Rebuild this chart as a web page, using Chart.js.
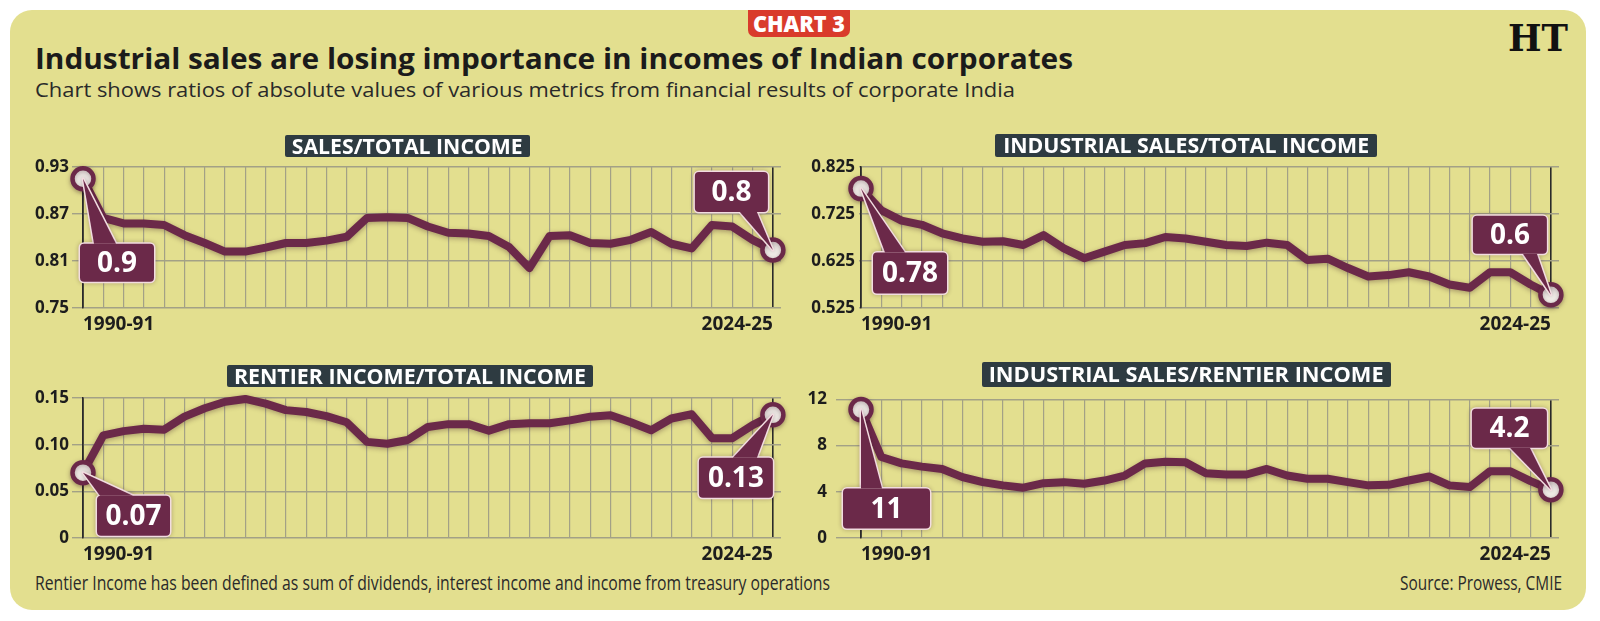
<!DOCTYPE html>
<html><head><meta charset="utf-8">
<script src="https://cdn.jsdelivr.net/npm/chart.js@4.4.1/dist/chart.umd.min.js"></script>
<style>
html,body{margin:0;padding:0;background:#fff;width:1600px;height:621px;overflow:hidden;font-family:'Open Sans',sans-serif;}
#card{position:absolute;left:10px;top:10px;width:1576px;height:600px;background:#E3DF8F;border-radius:22px;}
.t{position:absolute;white-space:nowrap;line-height:1;}
.t span{display:inline-block;transform-origin:left center;}
canvas{position:absolute;}
.pt{position:absolute;background:#2E3B41;color:#fff;font-weight:700;font-size:21px;line-height:1;display:flex;align-items:center;justify-content:center;border-radius:2px;white-space:nowrap;}
.pt span{display:inline-block;}
#badge{position:absolute;left:748px;top:10px;width:102px;height:27px;background:#D93B2B;border-radius:0 0 7px 7px;color:#fff;font-weight:800;font-size:23px;line-height:1;display:flex;align-items:center;justify-content:center;}
#badge span{display:inline-block;}
</style></head>
<body>
<div id="card"></div>
<div id="badge"><span>CHART 3</span></div>
<div class="t" id="ht" style="left:1508px;top:19px;font-family:'DejaVu Serif',serif;font-weight:700;font-size:38px;color:#111;"><span>HT</span></div>
<div class="t" id="title" style="left:35px;top:44px;font-size:28px;font-weight:700;color:#1b1b1b;"><span>Industrial sales are losing importance in incomes of Indian corporates</span></div>
<div class="t" id="sub" style="left:35px;top:79.5px;font-size:20px;color:#2a2a2a;"><span>Chart shows ratios of absolute values of various metrics from financial results of corporate India</span></div>
<div class="t" id="foot" style="left:35px;top:572.5px;font-size:20px;color:#2a2a2a;"><span>Rentier Income has been defined as sum of dividends, interest income and income from treasury operations</span></div>
<div class="t" id="src" style="left:1400px;top:572.5px;font-size:20px;color:#2a2a2a;"><span>Source: Prowess, CMIE</span></div>

<canvas id="c1" width="800" height="190" style="left:0;top:150px"></canvas>
<canvas id="c2" width="800" height="190" style="left:800px;top:150px"></canvas>
<canvas id="c3" width="800" height="190" style="left:0;top:380px"></canvas>
<canvas id="c4" width="800" height="190" style="left:800px;top:380px"></canvas>

<div class="pt" id="pt1" style="left:285px;top:135px;width:245px;height:22px;"><span>SALES/TOTAL INCOME</span></div>
<div class="pt" id="pt2" style="left:995px;top:134px;width:382px;height:23px;"><span>INDUSTRIAL SALES/TOTAL INCOME</span></div>
<div class="pt" id="pt3" style="left:227px;top:365px;width:366px;height:22px;"><span>RENTIER INCOME/TOTAL INCOME</span></div>
<div class="pt" id="pt4" style="left:982px;top:362px;width:409px;height:25px;"><span>INDUSTRIAL SALES/RENTIER INCOME</span></div>

<script>
// ---------- DATA ----------
const years = ['1990-91','1991-92','1992-93','1993-94','1994-95','1995-96','1996-97','1997-98','1998-99','1999-00',
  '2000-01','2001-02','2002-03','2003-04','2004-05','2005-06','2006-07','2007-08','2008-09','2009-10',
  '2010-11','2011-12','2012-13','2013-14','2014-15','2015-16','2016-17','2017-18','2018-19','2019-20',
  '2020-21','2021-22','2022-23','2023-24','2024-25'];

const salesTotal = [0.915,0.865,0.858,0.858,0.856,0.843,0.833,0.822,0.822,0.827,0.833,0.833,0.836,0.841,0.865,0.866,0.865,0.854,0.846,0.845,0.842,0.828,0.801,0.842,0.843,0.833,0.832,0.837,0.847,0.832,0.826,0.856,0.854,0.837,0.824];
const indSalesTotal = [0.779,0.733,0.711,0.702,0.684,0.673,0.666,0.667,0.659,0.680,0.652,0.631,0.645,0.659,0.663,0.676,0.673,0.666,0.659,0.657,0.664,0.659,0.627,0.630,0.610,0.592,0.595,0.601,0.592,0.575,0.568,0.601,0.601,0.575,0.553];
const rentierTotal = [0.070,0.110,0.1145,0.117,0.116,0.130,0.139,0.146,0.149,0.144,0.137,0.135,0.1305,0.124,0.103,0.101,0.105,0.119,0.122,0.122,0.115,0.122,0.123,0.123,0.126,0.130,0.1315,0.124,0.1155,0.128,0.1326,0.107,0.107,0.121,0.132];
const indSalesRentier = [11.1,7.0,6.45,6.17,5.97,5.26,4.83,4.55,4.35,4.74,4.83,4.69,4.97,5.4,6.45,6.6,6.54,5.6,5.49,5.49,5.97,5.4,5.12,5.12,4.83,4.55,4.6,4.97,5.32,4.55,4.4,5.77,5.77,4.92,4.18];

const salesCallouts = ['0.9','0.8'];
const indSalesTotalCallouts = ['0.78','0.6'];
const rentierTotalCallouts = ['0.07','0.13'];
const indSalesRentierCallouts = ['11','4.2'];

const salesTickVals = [0.75,0.81,0.87,0.93];
const salesTickLabels = ['0.75','0.81','0.87','0.93'];
const indSalesTickVals = [0.525,0.625,0.725,0.825];
const indSalesTickLabels = ['0.525','0.625','0.725','0.825'];
const rentierTickVals = [0,0.05,0.10,0.15];
const rentierTickLabels = ['0','0.05','0.10','0.15'];
const ratioTickVals = [0,4,8,12];
const ratioTickLabels = ['0','4','8','12'];

// ---------- STYLE ----------
const MAROON = '#6B2949';
const GRID = '#A3A186';
const DARK = '#2A2A2A';
Chart.defaults.font.family = "'Open Sans', sans-serif";

function fitText(id, w, origin){
  const el = document.getElementById(id); const s = el.querySelector('span');
  const cw = s.getBoundingClientRect().width;
  s.style.transform = 'scaleX(' + (w / cw) + ')';
  s.style.transformOrigin = origin || 'left center';
}
fitText('title', 1038);
fitText('sub', 980);
fitText('foot', 795);
fitText('src', 162);
fitText('ht', 60);
fitText('badge', 92, 'center center');
fitText('pt1', 231, 'center center');
fitText('pt2', 366, 'center center');
fitText('pt3', 352, 'center center');
fitText('pt4', 395, 'center center');

const shadowPlugin = {
  id: 'lineShadow',
  beforeDatasetsDraw(chart){ const c = chart.ctx; c.save(); c.shadowColor = 'rgba(50,15,30,0.35)'; c.shadowBlur = 5; c.shadowOffsetY = 1.5; },
  afterDatasetsDraw(chart){ chart.ctx.restore(); }
};

const calloutPlugin = {
  id: 'callouts',
  afterDatasetsDraw(chart, args, opts){
    const ctx = chart.ctx; const meta = chart.getDatasetMeta(0);
    (opts.items || []).forEach(c => {
      const pt = meta.data[c.index]; const x = pt.x, y = pt.y;
      const bx = x + c.dx, by = y + c.dy;
      const baseY = c.side === 'top' ? by : by + c.h;
      const shape = () => {
        ctx.beginPath();
        ctx.moveTo(x, y); ctx.lineTo(bx + c.b1, baseY); ctx.lineTo(bx + c.b2, baseY); ctx.closePath();
      };
      const box = () => { ctx.beginPath(); ctx.roundRect(bx, by, c.w, c.h, 4); };
      ctx.save();
      ctx.lineJoin = 'round';
      ctx.shadowColor = 'rgba(40,10,25,0.3)'; ctx.shadowBlur = 4;
      ctx.strokeStyle = '#F2DCE0'; ctx.lineWidth = 3;
      shape(); ctx.stroke(); box(); ctx.stroke();
      ctx.shadowColor = 'transparent';
      ctx.fillStyle = MAROON;
      shape(); ctx.fill(); box(); ctx.fill();
      ctx.fillStyle = '#FFFFFF';
      ctx.font = "700 28px 'Open Sans', sans-serif";
      ctx.textAlign = 'center'; ctx.textBaseline = 'middle';
      ctx.fillText(c.text, bx + c.w / 2, by + c.h / 2 + 1);
      ctx.restore();
    });
  }
};

function makeChart(p){
  const last = years.length - 1;
  new Chart(document.getElementById(p.id), {
    type: 'line',
    data: {
      datasets: [{
        data: p.values.map((v, i) => ({x: i, y: v})),
        borderColor: MAROON, borderWidth: 8, tension: 0,
        borderJoinStyle: 'round', borderCapStyle: 'round',
        pointRadius: ctx => (ctx.dataIndex === 0 || ctx.dataIndex === last) ? 10.5 : 0,
        pointHoverRadius: 0,
        pointBackgroundColor: '#F3EFEA', pointBorderColor: MAROON, pointBorderWidth: 4.5,
        clip: false
      }]
    },
    options: {
      responsive: false, animation: false, events: [],
      layout: { padding: { top: p.padT, right: p.padR, left: 0, bottom: 0 } },
      plugins: {
        legend: { display: false }, tooltip: { enabled: false },
        callouts: { items: [
          Object.assign({index: 0, text: p.callTexts[0]}, p.callouts[0]),
          Object.assign({index: last, text: p.callTexts[1]}, p.callouts[1])
        ]}
      },
      scales: {
        x: {
          type: 'linear', min: 0, max: last + 0.4,
          afterBuildTicks: s => { s.ticks = years.map((_, i) => ({value: i})); },
          afterFit: s => { s.height = p.xH; },
          grid: { color: c => (c.tick && (c.tick.value === 0 || c.tick.value === last)) ? DARK : GRID, lineWidth: c => (c.tick && (c.tick.value === 0 || c.tick.value === last)) ? 1.6 : 1.2, drawTicks: false },
          border: { display: false },
          ticks: {
            autoSkip: false, maxRotation: 0, minRotation: 0, align: 'inner', padding: 5,
            color: '#1d1d1d', font: { size: 19, weight: '700' },
            callback: (v, i) => (i === 0 ? years[0] : (i === last ? years[last] : ''))
          }
        },
        y: {
          min: p.tickVals[0], max: p.tickVals[p.tickVals.length - 1],
          afterBuildTicks: s => { s.ticks = p.tickVals.map(v => ({value: v})); },
          afterFit: s => { s.width = p.yW; },
          grid: { color: GRID, lineWidth: 1.4, tickLength: p.tickLen, drawTicks: p.tickLen > 0 },
          border: { display: true, color: DARK, width: 1.6 },
          ticks: {
            padding: p.pad, color: '#1d1d1d', font: { size: 17, weight: '700' },
            callback: (v, i) => p.tickLabels[i]
          }
        }
      }
    },
    plugins: [shadowPlugin, calloutPlugin]
  });
}

makeChart({ id: 'c1', values: salesTotal, callTexts: salesCallouts, tickVals: salesTickVals, tickLabels: salesTickLabels,
  tickLen: 11, pad: 3, yW: 83, padR: 19, padT: 17, xH: 32,
  callouts: [ {dx: -3, dy: 65, w: 74, h: 38, b1: 14, b2: 36, side: 'top'}, {dx: -78, dy: -78, w: 73, h: 40, b1: 45, b2: 62, side: 'bottom'} ] });
makeChart({ id: 'c2', values: indSalesTotal, callTexts: indSalesTotalCallouts, tickVals: indSalesTickVals, tickLabels: indSalesTickLabels,
  tickLen: 2, pad: 4, yW: 61, padR: 41, padT: 17, xH: 32,
  callouts: [ {dx: 12, dy: 64, w: 74, h: 41, b1: 12, b2: 32, side: 'top'}, {dx: -78, dy: -79, w: 74, h: 38, b1: 50, b2: 64, side: 'bottom'} ] });
makeChart({ id: 'c3', values: rentierTotal, callTexts: rentierTotalCallouts, tickVals: rentierTickVals, tickLabels: rentierTickLabels,
  tickLen: 11, pad: 3, yW: 83, padR: 19, padT: 18, xH: 32,
  callouts: [ {dx: 14, dy: 23, w: 73, h: 40, b1: 3, b2: 36, side: 'top'}, {dx: -74, dy: 43, w: 74, h: 40, b1: 34, b2: 58, side: 'top'} ] });
makeChart({ id: 'c4', values: indSalesRentier, callTexts: indSalesRentierCallouts, tickVals: ratioTickVals, tickLabels: ratioTickLabels,
  tickLen: 25, pad: 9, yW: 61, padR: 41, padT: 18, xH: 32,
  callouts: [ {dx: -18, dy: 79, w: 87, h: 40, b1: 18, b2: 39, side: 'top'}, {dx: -79, dy: -81, w: 75, h: 39, b1: 38, b2: 58, side: 'bottom'} ] });
</script>
</body></html>
